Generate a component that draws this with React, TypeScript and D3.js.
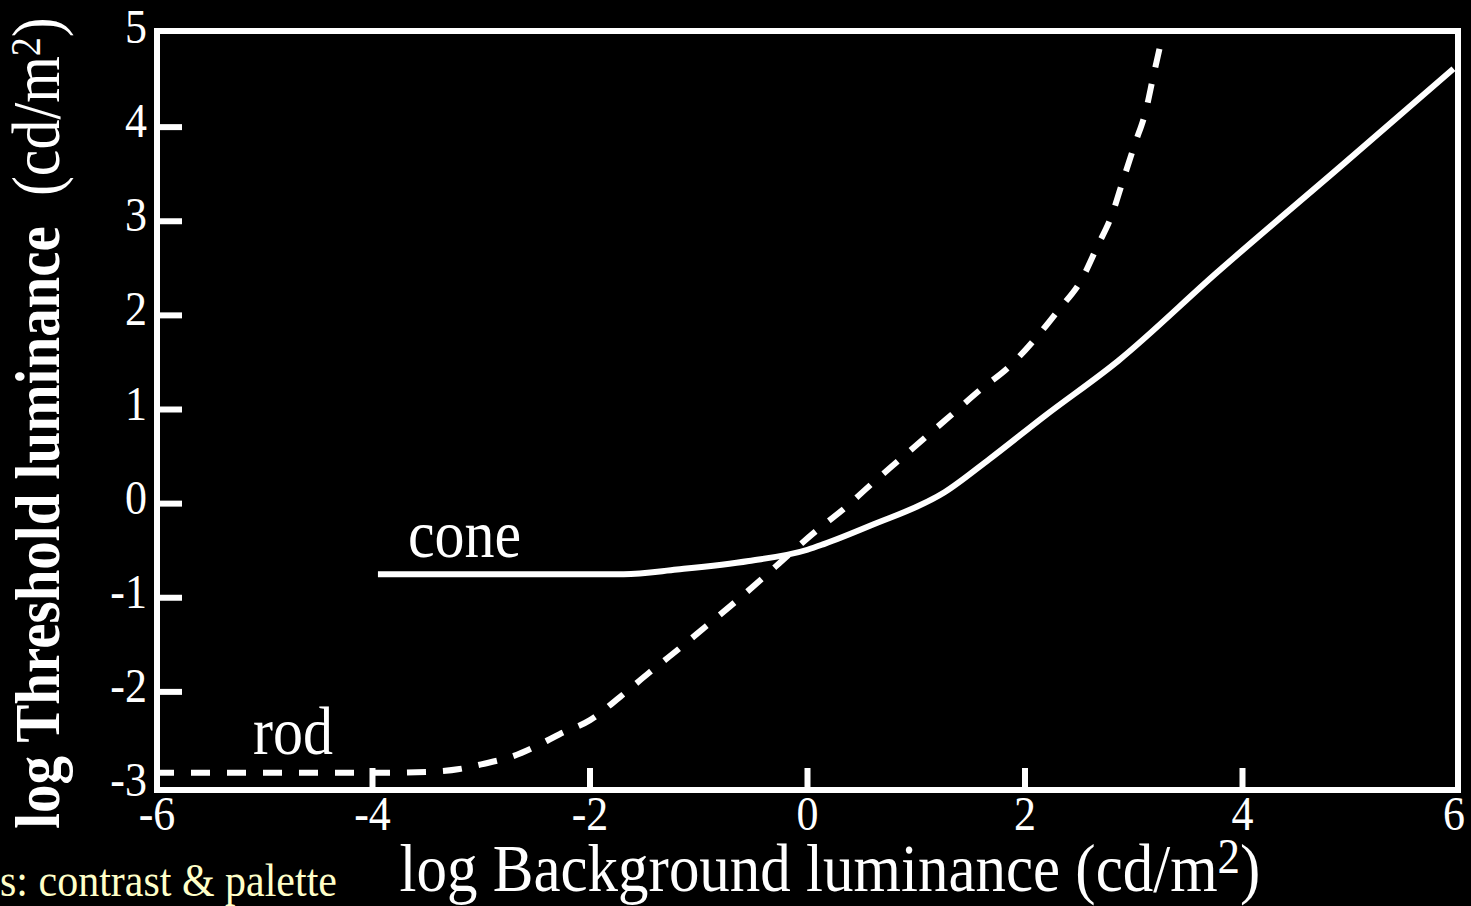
import React from 'react';
import * as d3 from 'd3';

// Axis ticks
const xTickValues = [-6, -4, -2, 0, 2, 4, 6];
const yTickValues = [-3, -2, -1, 0, 1, 2, 3, 4, 5];
const xInnerTicks = [-4, -2, 0, 2, 4];
const yInnerTicks = [-2, -1, 0, 1, 2, 3, 4];

// Rod curve (dashed): log background vs log threshold
const rodX = [-6, -4, -3.5, -3.2, -3.0, -2.7, -2.5, -2.28, -2.0, -1.72, -1.46, -1.19, -0.93, -0.67, -0.42, -0.18, 0.08, 0.35, 0.59, 0.84, 1.10, 1.34, 1.60, 1.85, 2.10, 2.31, 2.52, 2.66, 2.80, 2.90, 3.01, 3.11, 3.18, 3.25, 3.27];
const rodY = [-2.86, -2.86, -2.85, -2.82, -2.77, -2.68, -2.58, -2.45, -2.30, -2.05, -1.80, -1.55, -1.30, -1.05, -0.80, -0.55, -0.29, -0.04, 0.21, 0.46, 0.72, 0.96, 1.22, 1.45, 1.76, 2.06, 2.38, 2.72, 3.07, 3.43, 3.82, 4.17, 4.54, 4.90, 5.0];

// Cone curve (solid)
const coneX = [-3.95, -2.0, -1.69, -1.2, -0.54, 0.0, 0.15, 0.575, 1.26, 1.67, 2.18, 2.86, 3.76, 4.94, 5.94];
const coneY = [-0.75, -0.75, -0.75, -0.70, -0.61, -0.49, -0.43, -0.235, 0.12, 0.47, 0.93, 1.52, 2.45, 3.62, 4.62];

const FONT = 'Liberation Serif, Times New Roman, serif';
const SY = 1.12; // vertical stretch of the lettering

export default function App() {
  const W = 1471;
  const H = 906;
  const x = d3.scaleLinear().domain([-6, 6]).range([155, 1460]);
  const y = d3.scaleLinear().domain([-3, 5]).range([786, 33]);

  const frame = { left: 157, top: 31, right: 1458, bottom: 790 };

  const line = d3
    .line<[number, number]>()
    .x((d) => x(d[0]))
    .y((d) => y(d[1]))
    .curve(d3.curveMonotoneX);

  const rodPts: [number, number][] = rodX.map((v, i) => [v, rodY[i]]);
  const conePts: [number, number][] = coneX.map((v, i) => [v, coneY[i]]);
  const fmt = (v: number) => (v < 0 ? '-' + Math.abs(v) : String(v));

  return (
    <svg
      width={W}
      height={H}
      style={{ position: 'absolute', left: 0, top: 0, display: 'block', background: '#000' }}
    >
      <rect x={0} y={0} width={W} height={H} fill="#000" />
      {/* frame */}
      <rect
        x={frame.left}
        y={frame.top}
        width={frame.right - frame.left}
        height={frame.bottom - frame.top}
        fill="none"
        stroke="#fff"
        strokeWidth={6}
      />
      {/* x ticks */}
      {xInnerTicks.map((v) => (
        <line key={'xt' + v} x1={x(v)} x2={x(v)} y1={frame.bottom} y2={frame.bottom - 22} stroke="#fff" strokeWidth={6} />
      ))}
      {/* y ticks */}
      {yInnerTicks.map((v) => (
        <line key={'yt' + v} x1={frame.left} x2={frame.left + 25} y1={y(v)} y2={y(v)} stroke="#fff" strokeWidth={6} />
      ))}
      {/* x tick labels */}
      {xTickValues.map((v) => (
        <g key={'xl' + v} transform={`translate(${x(v) + (v === 6 ? -6 : v === -6 ? 2 : 0)}, 830) scale(1, ${SY})`}>
          <text x={0} y={0} fill="#fff" fontFamily={FONT} fontSize={44} textAnchor="middle">
            {fmt(v)}
          </text>
        </g>
      ))}
      {/* y tick labels */}
      {yTickValues.map((v) => (
        <g key={'yl' + v} transform={`translate(147, ${y(v) + 10}) scale(1, ${SY})`}>
          <text x={0} y={0} fill="#fff" fontFamily={FONT} fontSize={44} textAnchor="end">
            {fmt(v)}
          </text>
        </g>
      ))}
      {/* curves */}
      <path d={line(rodPts) || ''} fill="none" stroke="#fff" strokeWidth={6} strokeDasharray="19 17" />
      <path d={line(conePts) || ''} fill="none" stroke="#fff" strokeWidth={6} />
      {/* curve labels */}
      <g transform={`translate(408, 557) scale(1, ${SY})`}>
        <text x={0} y={0} fill="#fff" fontFamily={FONT} fontSize={60}>
          cone
        </text>
      </g>
      <g transform={`translate(253, 754) scale(1, ${SY})`}>
        <text x={0} y={0} fill="#fff" fontFamily={FONT} fontSize={60}>
          rod
        </text>
      </g>
      {/* x axis title */}
      <g transform={`translate(830, 891) scale(1, ${SY})`}>
        <text x={0} y={0} fill="#fff" fontFamily={FONT} fontSize={61} textAnchor="middle">
          log Background luminance (cd/m
          <tspan fontSize={45} dy={-16}>2</tspan>
          <tspan dy={16}>)</tspan>
        </text>
      </g>
      {/* y axis title */}
      <g transform={`translate(59, 423) rotate(-90) scale(1, ${SY})`}>
        <text x={0} y={0} fill="#fff" fontFamily={FONT} fontSize={57} textAnchor="middle">
          <tspan fontWeight="bold">log Threshold luminance</tspan>
          <tspan fontSize={60}>{'\u00A0\u00A0(cd/m'}</tspan>
          <tspan fontSize={38} dy={-17}>2</tspan>
          <tspan fontSize={60} dy={17}>)</tspan>
        </text>
      </g>
      {/* footer fragment */}
      <g transform={`translate(0, 896) scale(1, ${SY})`}>
        <text x={0} y={0} fill="#FFFFC8" fontFamily={FONT} fontSize={42}>
          s: contrast &amp; palette
        </text>
      </g>
    </svg>
  );
}
